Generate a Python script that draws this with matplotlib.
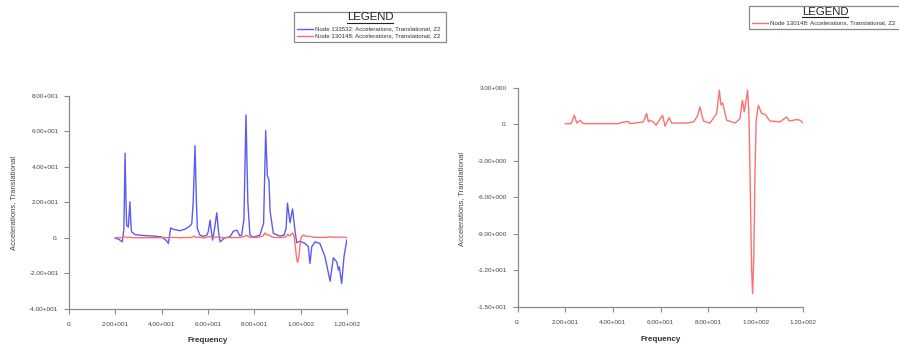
import matplotlib
matplotlib.use("Agg")
import matplotlib.pyplot as plt
from matplotlib.lines import Line2D
from matplotlib.patches import Rectangle
from matplotlib.ticker import FuncFormatter

plt.rcParams["font.family"] = ["Liberation Sans", "DejaVu Sans"]

# Node 133532, Z2 acceleration vs frequency (left panel only)
blue_freq = [20, 21.5, 23, 23.7, 24.2, 24.6, 24.9, 25.6, 26.3, 26.7, 27, 28.5, 32, 36, 40,
             42, 42.9, 43.9, 45, 47.9, 50, 52.2, 53, 53.6, 54.4, 55, 55.4, 56.5, 58, 59.5,
             60.1, 60.9, 61.4, 62, 62.8, 63.8, 64.5, 65.2, 67.3, 69.5, 71, 72.5, 73.8, 74.5,
             75.5, 76.4, 77.2, 78.1, 79.6, 82.4, 84, 84.9, 85.6, 86.3, 86.8, 88.2, 91, 92.8,
             93.7, 94.3, 95.4, 96.5, 97.6, 98.3, 99.7, 101.9, 103.3, 104, 104.8, 106.2,
             108.3, 110.5, 112.7, 114.1, 115.6, 116.3, 116.7, 117.7, 118.7, 119.9]
blue_acc = [-0.3, -0.8, -2.3, 5, 47.7, 20, 7, 6, 20.3, 8, 3.4, 1.8, 1.3, 1.0, 0.5,
            -1.5, -3.2, 5.6, 4.8, 4.0, 4.8, 6.6, 8.1, 20, 52, 20, 5.3, 1.5, 0.8, 1.5,
            3.4, 10, 4, -1.3, 5, 14.1, 4, -2.3, 0, 0.6, 3.8, 4.3, 1, 1.5,
            10, 69.3, 20, 1.5, 0.4, 1.5, 8.1, 60.5, 35, 32.6, 15, 2.5, 1, 1.5,
            5.3, 19.6, 8.5, 16.3, 3.4, -2.8, -1.9, -3.2, -5, -14.5, -5, -2.3,
            -3.2, -10.7, -24.5, -11.3, -13.6, -18.2, -16.4, -25.8, -10.7, -1.3]

# Node 130148, Z2 acceleration vs frequency (both panels)
red_freq = [20, 22.5, 23.8, 24.8, 26.2, 27.6, 42.3, 43.7, 46.5, 47.2, 52.8, 54.2, 54.9,
            55.6, 57, 58.1, 60.9, 61.9, 63.6, 64.7, 71, 73.8, 75.4, 76.6, 78, 80.8, 83.6,
            84.7, 85.4, 86.1, 87.8, 91.3, 93.4, 94.4, 95.2, 96.6, 97.2, 97.7, 98.3, 98.7,
            99.2, 99.7, 100.2, 101.1, 102.5, 104, 106, 110.2, 113, 114.1, 117.2, 118.6, 120]
red_acc = [0.05, 0.05, 0.74, 0.1, 0.33, 0.05, 0.05, 0.16, 0.22, 0.05, 0.19, 0.88, 0.19,
           0.33, 0.19, -0.08, 0.74, -0.16, 0.55, 0.1, 0.1, 0.19, 0.6, 1.42, 0.27, 0.1, 0.88,
           2.79, 1.6, 1.75, 0.33, 0.1, 0.47, 1.97, 1.01, 2.79, 0.5, -5, -12, -13.9,
           -11, -4, 0.3, 1.56, 0.88, 0.8, 0.27, 0.19, 0.6, 0.27, 0.38, 0.33, 0.1]

freq_ticks = [0, 20, 40, 60, 80, 100, 120]
left_yticks = [-40, -20, 0, 20, 40, 60, 80]
right_yticks = [-15, -12, -9, -6, -3, 0, 3]

label_blue = "Node 133532: Accelerations, Translational, Z2"
label_red = "Node 130148: Accelerations, Translational, Z2"

BLUE = "#5c5cf2"
RED = "#ff6f6f"
GRAY = "#8a8a8a"

W, H = 899, 347


def fx(px):
    return px / W


def fy(py):
    return 1 - py / H


def sci_fmt(v, pos):
    # Fortran style labels, e.g. 8.00+001
    if v == 0:
        return "0."
    mant, exp = f"{v:.2e}".split("e")
    e = int(exp)
    return f"{mant}{'+' if e >= 0 else '-'}{abs(e):03d}"


def style_axes(ax, yticks, xlab_y, ylab_x):
    ax.set_xlim(0, 120)
    ax.set_ylim(yticks[0], yticks[-1])
    ax.set_xticks(freq_ticks)
    ax.set_yticks(yticks)
    ax.xaxis.set_major_formatter(FuncFormatter(sci_fmt))
    ax.yaxis.set_major_formatter(FuncFormatter(sci_fmt))
    for s in ["top", "right"]:
        ax.spines[s].set_visible(False)
    for s in ["left", "bottom"]:
        ax.spines[s].set_color(GRAY)
        ax.spines[s].set_linewidth(0.9)
    ax.tick_params(axis="both", direction="out", length=3.5, width=0.8, color=GRAY,
                   labelsize=4.6, labelcolor="#444444")
    ax.tick_params(axis="x", pad=6)
    ax.tick_params(axis="y", pad=4)
    ax.set_xlabel("Frequency", fontsize=5.8, fontweight="bold", color="#333333")
    ax.xaxis.label.set_va("center")
    ax.xaxis.set_label_coords(0.5, xlab_y)
    ax.set_ylabel("Accelerations, Translational", fontsize=5.5, color="#444444")
    ax.yaxis.label.set_va("center")
    ax.yaxis.set_label_coords(ylab_x, 0.495)


def draw_legend(fig, x0, y0, x1, y1, entries):
    fig.add_artist(Rectangle((fx(x0), fy(y1)), fx(x1) - fx(x0), fy(y0) - fy(y1),
                             transform=fig.transFigure, fill=False,
                             edgecolor=GRAY, linewidth=0.9, clip_on=False))
    cx = x0 + 76
    ty = y0 + 5.8
    fig.text(fx(cx), fy(ty), "LEGEND", fontsize=8.2, ha="center", va="center",
             color="#222222")
    fig.add_artist(Line2D([fx(cx - 23), fx(cx + 23)], [fy(ty + 5), fy(ty + 5)],
                          transform=fig.transFigure, color="#222222", linewidth=0.8))
    for i, (lab, col) in enumerate(entries):
        ey = y0 + 16.8 + 7 * i
        fig.add_artist(Line2D([fx(x0 + 3), fx(x0 + 19)], [fy(ey), fy(ey)],
                              transform=fig.transFigure, color=col, linewidth=1.0))
        fig.text(fx(x0 + 21), fy(ey), lab, fontsize=4.4, ha="left", va="center",
                 color="#333333")


fig = plt.figure(figsize=(W / 100, H / 100), dpi=100)

ax1 = fig.add_axes([fx(69), fy(308.7), fx(347) - fx(69), fy(96) - fy(308.7)])
ax1.plot(blue_freq, blue_acc, color=BLUE, linewidth=1.0, label=label_blue)
ax1.plot(red_freq, red_acc, color=RED, linewidth=1.0, label=label_red)
style_axes(ax1, left_yticks, -0.148, -0.20)

ax2 = fig.add_axes([fx(517.7), fy(307), fx(803.3) - fx(517.7), fy(87.7) - fy(307)])
ax2.plot(red_freq, red_acc, color=RED, linewidth=1.0, label=label_red)
style_axes(ax2, right_yticks, -0.147, -0.195)

draw_legend(fig, 294, 11.7, 445.7, 41.7, [(label_blue, BLUE), (label_red, RED)])
draw_legend(fig, 749, 6, 901, 29, [(label_red, RED)])

fig.savefig("out.png", dpi=100)
plt.close(fig)
